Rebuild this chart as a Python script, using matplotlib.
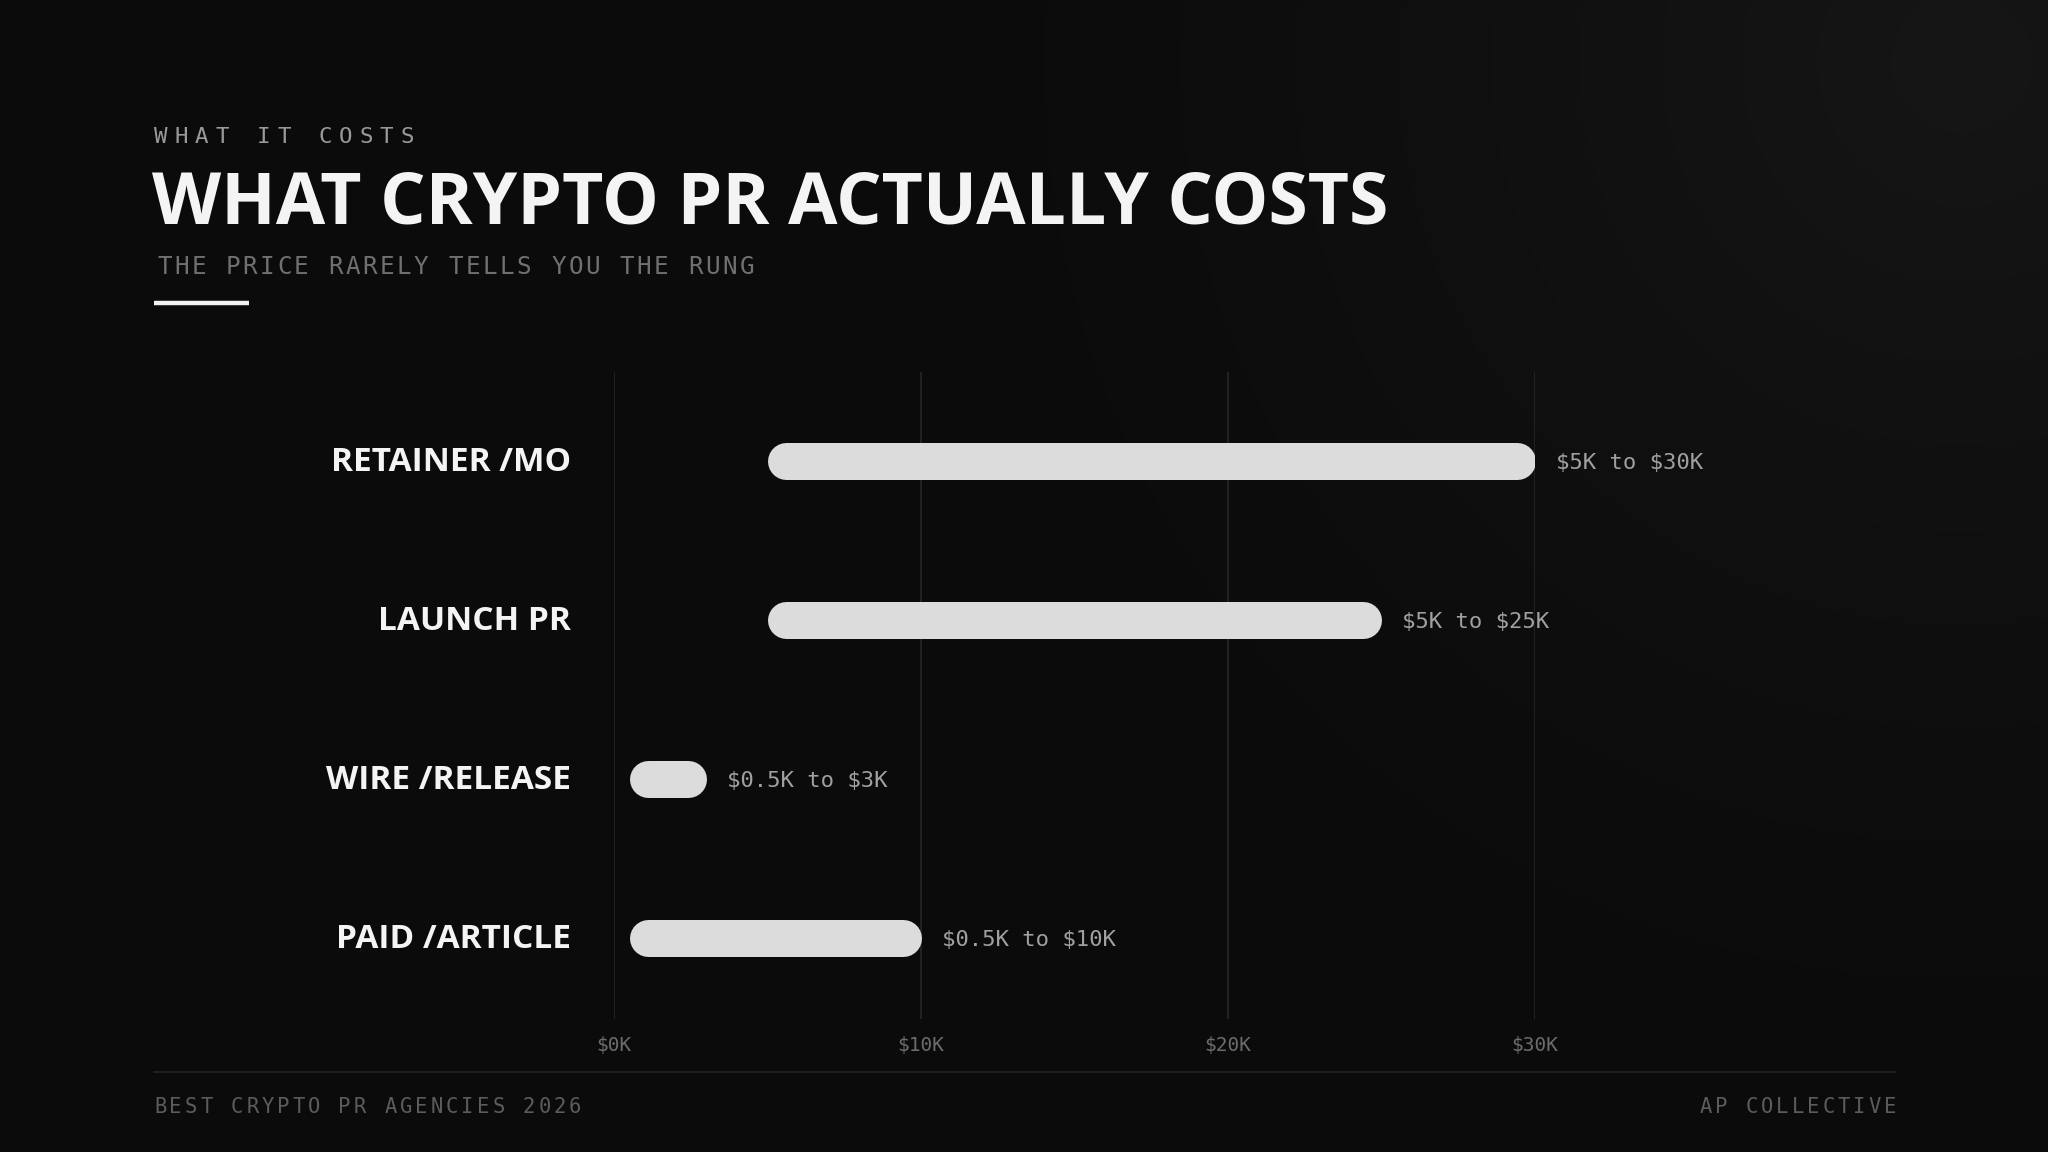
import numpy as np
import matplotlib
matplotlib.use("Agg")
import matplotlib.pyplot as plt
from matplotlib import transforms

plt.rcParams["text.parse_math"] = False

# data ($K)
categories = ["RETAINER /MO", "LAUNCH PR", "WIRE /RELEASE", "PAID /ARTICLE"]
low_k = [5, 5, 0.5, 0.5]
high_k = [30, 25, 3, 10]
range_labels = ["$5K to $30K", "$5K to $25K", "$0.5K to $3K", "$0.5K to $10K"]
tick_values = [0, 10, 20, 30]
tick_labels = ["$0K", "$10K", "$20K", "$30K"]

eyebrow = "WHAT IT COSTS"
title = "WHAT CRYPTO PR ACTUALLY COSTS"
subtitle = "THE PRICE RARELY TELLS YOU THE RUNG"
footer_left = "BEST CRYPTO PR AGENCIES 2026"
footer_right = "AP COLLECTIVE"

W, H = 2048, 1152
DPI = 100
MONO = "DejaVu Sans Mono"
SANS = ["Open Sans", "DejaVu Sans"]

fig = plt.figure(figsize=(W / DPI, H / DPI), dpi=DPI)
fig.patch.set_facecolor("#0b0b0b")

# background with soft glow in the upper right
bg = fig.add_axes([0, 0, 1, 1], zorder=-10)
yy, xx = np.mgrid[0:H:4, 0:W:4]
d = np.hypot(xx - 1960, yy - 60) / 1150.0
glow = np.clip(1 - d, 0, 1) ** 1.5
shade = 11 + 11 * glow
img = np.dstack([shade, shade, shade]) / 255.0
bg.imshow(img, extent=[0, W, H, 0], interpolation="bilinear", aspect="auto")
bg.set_xlim(0, W)
bg.set_ylim(H, 0)
bg.axis("off")


def fx(px):
    return px / W


def fy(py):
    return 1 - py / H


def spaced(x, y, s, size, spacing, color, ha="left"):
    adv = 0.602 * size * DPI / 72 + spacing
    total = adv * len(s) - spacing
    if ha == "right":
        x = x - total
    for i, ch in enumerate(s):
        fig.text(fx(x + i * adv), fy(y), ch, fontsize=size, family=MONO,
                 color=color, va="baseline", ha="left")


# header
spaced(154, 143, eyebrow, 16.2, 7.0, "#9a9a9a")
fig.text(fx(152), fy(224), title, fontsize=51.5, family=SANS, fontweight="bold",
         color="#f4f4f4", va="baseline", ha="left")
spaced(157, 274, subtitle, 17.5, 2.5, "#707070")
fig.lines.append(plt.Line2D([fx(154), fx(249)], [fy(303), fy(303)],
                            transform=fig.transFigure, color="#f2f2f2", lw=3.2,
                            solid_capstyle="butt"))

# chart
ax_left, ax_right, ax_top, ax_bottom = 614, 1535, 372, 1019
ax = fig.add_axes([fx(ax_left), fy(ax_bottom), (ax_right - ax_left) / W,
                   (ax_bottom - ax_top) / H])
ax.set_facecolor("none")
ax.set_xlim(0, 30)
ax.set_ylim(3.51, -0.56)
for s in ax.spines.values():
    s.set_visible(False)
ax.set_xticks(tick_values)
ax.set_xticklabels(tick_labels)
ax.set_yticks([])
ax.tick_params(axis="x", length=0, pad=12, labelsize=14, labelcolor="#6c6c6c")
for lab in ax.get_xticklabels():
    lab.set_family(MONO)
ax.grid(axis="x", color="#242424", lw=1.3)
ax.set_axisbelow(True)

bar_px = 37
px_per_k = (ax_right - ax_left) / 30.0
r = bar_px / 2 / px_per_k
lw_pt = bar_px * 72 / DPI

label_tr = transforms.blended_transform_factory(fig.transFigure, ax.transData)
for i, (cat, lo, hi, rl) in enumerate(zip(categories, low_k, high_k, range_labels)):
    ax.plot([lo + r, hi - r], [i, i], color="#dcdcdc", lw=lw_pt,
            solid_capstyle="round", zorder=3)
    ax.annotate(cat, xy=(fx(571), i), xycoords=label_tr, xytext=(0, -10),
                textcoords="offset pixels", ha="right", va="baseline",
                fontsize=24, family=SANS, fontweight="bold", color="#f4f4f4",
                annotation_clip=False)
    ax.annotate(rl, xy=(hi, i), xytext=(21, -8), textcoords="offset pixels",
                ha="left", va="baseline", fontsize=16, family=MONO,
                color="#a0a0a0", annotation_clip=False)

# footer
fig.lines.append(plt.Line2D([fx(154), fx(1895)], [fy(1072), fy(1072)],
                            transform=fig.transFigure, color="#222222", lw=1.3))
spaced(154, 1113, footer_left, 14.8, 3.0, "#5c5c5c")
spaced(1896, 1113, footer_right, 14.8, 3.0, "#5c5c5c", ha="right")

fig.savefig("out.png", dpi=DPI, facecolor=fig.get_facecolor())
